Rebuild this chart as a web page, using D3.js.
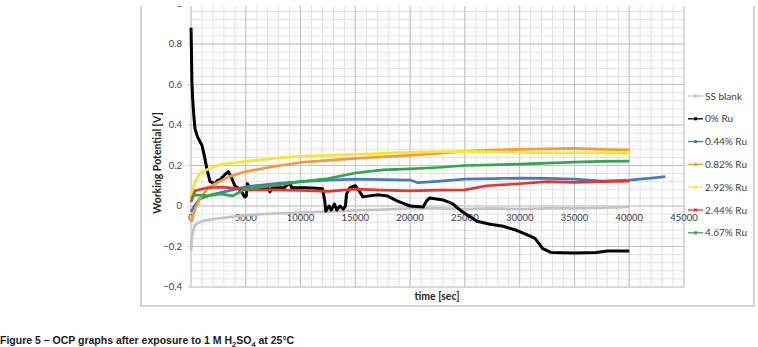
<!DOCTYPE html>
<html lang="en">
  <head>
    <meta charset="UTF-8" />
    <title>OCP graphs</title>
    <style>
      body { margin: 0; background: #fff; }
      svg { display: block; }
    </style>
  </head>
  <body>
    <div id="chart"></div>
    <script src="https://cdn.jsdelivr.net/npm/d3@7"></script>
    <script>
      // data: [time (s), potential (V)]
      var seriesNames = ["SS blank", "0% Ru", "0.44% Ru", "0.82% Ru", "2.92% Ru", "2.44% Ru", "4.67% Ru"];

      var ssBlank = [[0,-0.22],[100,-0.15],[300,-0.10],[600,-0.085],[1000,-0.075],[2000,-0.065],[3000,-0.058],
        [5000,-0.045],[7500,-0.037],[10000,-0.032],[12500,-0.028],[15000,-0.022],[17500,-0.018],[20000,-0.012],
        [22500,-0.012],[25000,-0.015],[27500,-0.012],[30000,-0.015],[32500,-0.012],[35000,-0.012],[37500,-0.01],[40000,-0.005]];

      var ru0 = [[0,0.88],[30,0.80],[80,0.62],[150,0.53],[250,0.45],[370,0.38],[600,0.34],[1000,0.30],[1250,0.24],
        [1460,0.18],[1740,0.12],[2200,0.11],[2400,0.125],[2650,0.13],[3000,0.15],[3400,0.17],[3700,0.14],[4000,0.10],
        [4500,0.08],[4900,0.045],[5050,0.05],[5150,0.11],[5400,0.09],[6000,0.085],[7000,0.09],[7200,0.07],[7400,0.09],
        [8500,0.09],[9000,0.115],[9200,0.09],[10500,0.09],[11500,0.088],[12000,0.085],[12200,0.03],[12300,-0.025],
        [12600,0.0],[12800,-0.02],[13100,0.01],[13300,-0.02],[13600,0.0],[13900,-0.015],[14100,0.0],[14200,0.06],
        [14500,0.09],[15000,0.10],[15400,0.07],[15700,0.045],[16300,0.05],[17000,0.055],[17900,0.05],[18800,0.025],
        [19500,0.01],[20000,0.0],[21200,-0.005],[21500,0.025],[21800,0.04],[23000,0.03],[23900,0.01],[24800,-0.03],
        [26100,-0.075],[27300,-0.09],[28500,-0.10],[29700,-0.12],[30600,-0.14],[31400,-0.16],[32100,-0.21],
        [32900,-0.23],[35000,-0.232],[37000,-0.23],[38000,-0.222],[40000,-0.222]];

      var ru044 = [[0,-0.03],[300,0.0],[800,0.035],[1500,0.05],[3000,0.07],[5000,0.095],[7500,0.11],[10000,0.12],
        [12500,0.128],[15000,0.133],[17500,0.13],[20000,0.128],[20700,0.115],[22500,0.122],[25000,0.133],
        [27500,0.135],[30000,0.138],[32500,0.136],[35000,0.133],[37600,0.123],[40000,0.128],[42000,0.138],[43300,0.145]];

      var ru082 = [[0,-0.08],[370,-0.015],[800,0.035],[1500,0.085],[2200,0.11],[3500,0.145],[5000,0.17],[7500,0.195],
        [10000,0.215],[12500,0.225],[15000,0.235],[17500,0.243],[20000,0.25],[22500,0.26],[25000,0.27],[27500,0.276],
        [30000,0.28],[32500,0.282],[35000,0.285],[37500,0.28],[40000,0.277]];

      var ru292 = [[0,0.05],[370,0.12],[800,0.16],[1500,0.18],[2650,0.205],[5000,0.22],[7500,0.235],[10000,0.245],
        [12500,0.25],[15000,0.255],[17500,0.26],[20000,0.265],[22500,0.268],[25000,0.27],[27500,0.268],[30000,0.265],
        [32500,0.262],[35000,0.264],[37500,0.262],[40000,0.26]];

      var ru244 = [[0,0.02],[370,0.075],[1500,0.09],[3000,0.093],[5000,0.08],[7500,0.08],[10000,0.077],[12500,0.072],
        [15000,0.083],[17500,0.078],[20000,0.075],[22500,0.078],[25000,0.08],[27000,0.1],[30000,0.11],[32500,0.12],
        [35000,0.117],[37500,0.12],[40000,0.123]];

      var ru467 = [[0,0.04],[370,0.055],[1500,0.05],[2650,0.06],[3800,0.05],[5000,0.085],[7500,0.10],[10000,0.12],
        [12500,0.135],[15000,0.163],[17500,0.178],[20000,0.183],[22500,0.19],[25000,0.2],[27500,0.203],[30000,0.207],
        [32500,0.212],[35000,0.217],[37500,0.22],[40000,0.222]];

      var seriesData = [ssBlank, ru0, ru044, ru082, ru292, ru244, ru467];
      var seriesColors = ["#c3c3c3", "#000000", "#4a78c0", "#f39a3a", "#f6e62e", "#e8352d", "#2fa84a"];

      var xTicks = [0, 5000, 10000, 15000, 20000, 25000, 30000, 35000, 40000, 45000];
      var yTicks = [-0.4, -0.2, 0, 0.2, 0.4, 0.6, 0.8, 1];

      var width = 758, height = 347;
      var svg0 = d3.select("#chart").append("svg")
        .attr("width", width).attr("height", height);

      // the source figure is cropped just above the top of the plot
      svg0.append("clipPath").attr("id", "crop")
        .append("rect").attr("x", 0).attr("y", 6).attr("width", width).attr("height", height - 6);
      var svg = svg0.append("g").attr("clip-path", "url(#crop)");

      var x = d3.scaleLinear().domain([0, 45000]).range([191, 684]);
      var y = d3.scaleLinear().domain([-0.4, 1]).range([287, 3.5]);

      // chart frame
      svg.append("rect")
        .attr("x", 141).attr("y", -5).attr("width", 613).attr("height", 311)
        .attr("fill", "none").attr("stroke", "#c4c4c4").attr("stroke-width", 1.5);

      // minor grid
      var grid = svg.append("g");
      d3.range(0, 45001, 1000).forEach(function (t) {
        grid.append("line")
          .attr("x1", x(t)).attr("x2", x(t)).attr("y1", y(-0.4)).attr("y2", y(1))
          .attr("stroke", "#e0e0e0").attr("stroke-width", 1);
      });
      d3.range(0, 36).forEach(function (i) {
        var v = -0.4 + i * 0.04;
        grid.append("line")
          .attr("x1", x(0)).attr("x2", x(45000)).attr("y1", y(v)).attr("y2", y(v))
          .attr("stroke", "#e0e0e0").attr("stroke-width", 1);
      });
      // major grid
      xTicks.forEach(function (t) {
        grid.append("line")
          .attr("x1", x(t)).attr("x2", x(t)).attr("y1", y(-0.4)).attr("y2", y(1))
          .attr("stroke", "#c2c2c2").attr("stroke-width", 1);
      });
      yTicks.forEach(function (v) {
        grid.append("line")
          .attr("x1", x(0) - 3).attr("x2", x(45000)).attr("y1", y(v)).attr("y2", y(v))
          .attr("stroke", "#c2c2c2").attr("stroke-width", 1);
      });

      // tick labels
      svg.append("g").selectAll("text").data(yTicks).enter().append("text")
        .attr("x", 182).attr("y", function (d) { return y(d); })
        .attr("dy", "0.35em")
        .attr("text-anchor", "end")
        .style("font-family", "Lato, 'Open Sans', sans-serif")
        .style("font-size", "9.5px").style("fill", "#404040")
        .text(function (d) { return d3.format("")(+d.toFixed(1)); });

      svg.append("g").selectAll("text").data(xTicks).enter().append("text")
        .attr("x", function (d) { return x(d); }).attr("y", y(0) + 15)
        .attr("text-anchor", "middle")
        .style("font-family", "Lato, 'Open Sans', sans-serif")
        .style("font-size", "9.5px").style("fill", "#404040")
        .text(function (d) { return d; });

      // axis titles
      svg.append("text")
        .attr("transform", "translate(161,163)rotate(-90)")
        .attr("text-anchor", "middle")
        .style("font-family", "Lato, 'Open Sans', sans-serif")
        .style("font-size", "10.5px").style("font-weight", "bold").style("fill", "#262626")
        .text("Working Potential [V]");
      svg.append("text")
        .attr("x", 437).attr("y", 300)
        .attr("text-anchor", "middle")
        .style("font-family", "Lato, 'Open Sans', sans-serif")
        .style("font-size", "10.5px").style("font-weight", "bold").style("fill", "#262626")
        .text("time [sec]");

      // series lines
      var line = d3.line()
        .x(function (d) { return x(d[0]); })
        .y(function (d) { return y(d[1]); });

      svg.append("g").selectAll("path").data(seriesData).enter().append("path")
        .attr("d", line)
        .attr("fill", "none")
        .attr("stroke", function (d, i) { return seriesColors[i]; })
        .attr("stroke-width", function (d, i) { return i === 1 ? 3 : 2.7; })
        .attr("stroke-linejoin", "round");

      // legend
      var legend = svg.append("g").selectAll("g").data(seriesNames).enter().append("g")
        .attr("transform", function (d, i) { return "translate(688," + (96 + i * 22.8) + ")"; });
      legend.append("line")
        .attr("x1", 0).attr("x2", 15)
        .attr("stroke", function (d, i) { return seriesColors[i]; })
        .attr("stroke-width", 1.3);
      legend.append("rect")
        .attr("x", 6).attr("y", -1.5).attr("width", 3).attr("height", 3)
        .attr("fill", function (d, i) { return seriesColors[i]; });
      legend.append("text")
        .attr("x", 17).attr("dy", "0.35em")
        .style("font-family", "Lato, 'Open Sans', sans-serif")
        .style("font-size", "10px").style("fill", "#404040")
        .text(function (d) { return d; });

      // caption
      var cap = svg.append("text")
        .attr("x", 0).attr("y", 344)
        .style("font-family", "'Liberation Sans', Arial, sans-serif")
        .style("font-size", "10.5px").style("font-weight", "bold").style("fill", "#1a1a1a");
      cap.append("tspan").text("Figure 5 – OCP graphs after exposure to 1 M H");
      cap.append("tspan").attr("dy", 2.5).style("font-size", "7.5px").text("2");
      cap.append("tspan").attr("dy", -2.5).text("SO");
      cap.append("tspan").attr("dy", 2.5).style("font-size", "7.5px").text("4");
      cap.append("tspan").attr("dy", -2.5).text(" at 25°C");
    </script>
  </body>
</html>
